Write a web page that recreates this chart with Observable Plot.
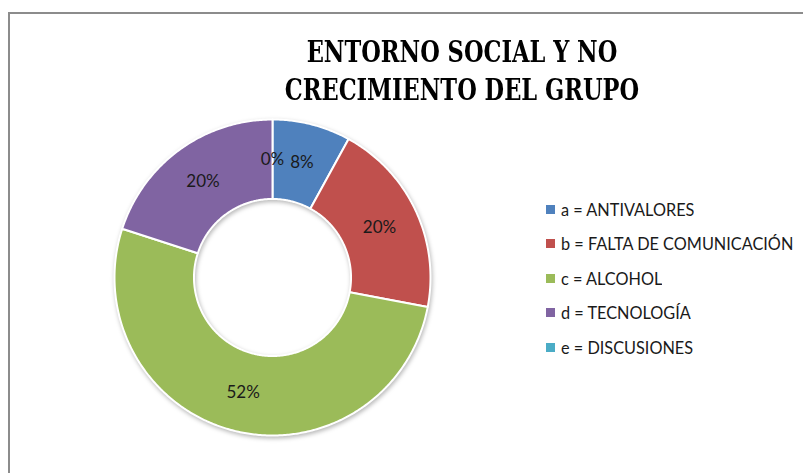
<!DOCTYPE html>
<html><head><meta charset="utf-8">
<script src="https://cdn.jsdelivr.net/npm/d3@7"></script>
<script src="https://cdn.jsdelivr.net/npm/@observablehq/plot@0.6"></script>
<style>
html,body{margin:0;padding:0;background:#fff;overflow:hidden;width:803px;height:473px;}
#wrap{position:relative;width:803px;height:473px;overflow:hidden;}
#frame{position:absolute;left:8px;top:12px;width:850px;height:520px;border:2px solid #8c8c8c;box-sizing:border-box;}
#title{position:absolute;left:62px;width:800px;top:33px;text-align:center;font-family:"DejaVu Serif","Liberation Serif",serif;font-weight:bold;font-size:29px;line-height:38px;color:#000;transform:scaleX(0.777);}
#chart{position:absolute;left:0;top:0;}
#chart g[aria-label="line"]{filter:drop-shadow(1.5px 2.5px 2px rgba(0,0,0,0.28));}
#legend{position:absolute;left:546px;top:192px;width:257px;}
.lg-swatch{height:34.5px !important;padding:0 !important;margin:0 !important;}
.lg-swatch svg{margin-right:6px !important;}
</style>
</head><body>
<div id="wrap">
  <div id="frame"></div>
  <div id="chart"></div>
  <div id="title">ENTORNO SOCIAL Y NO<br>CRECIMIENTO DEL GRUPO</div>
  <div id="legend"></div>
</div>
<script>
const categories = ["a = ANTIVALORES", "b = FALTA DE COMUNICACIÓN", "c = ALCOHOL", "d = TECNOLOGÍA", "e = DISCUSIONES"];
const values = [8, 20, 52, 20, 0];
const labels = ["8%", "20%", "52%", "20%", "0%"];
const colors = ["#4F81BD", "#C0504D", "#9BBB59", "#8064A2", "#4BACC6"];

const innerRatio = 0.497;
const arcs = d3.pie().sort(null).value(d => d)(values);
const pts = [];
arcs.forEach((a, i) => {
  const span = a.endAngle - a.startAngle;
  if (span <= 0) return;
  const n = Math.max(2, Math.ceil(span / 0.01));
  const ring = [];
  for (let k = 0; k <= n; k++) {
    const t = a.startAngle + span * k / n;
    ring.push({cat: categories[i], x: Math.sin(t), y: Math.cos(t)});
  }
  for (let k = n; k >= 0; k--) {
    const t = a.startAngle + span * k / n;
    ring.push({cat: categories[i], x: innerRatio * Math.sin(t), y: innerRatio * Math.cos(t)});
  }
  ring.push(ring[0]);
  pts.push(...ring);
});
const rm = (1 + innerRatio) / 2;
const labelData = arcs.map((a, i) => {
  const m = (a.startAngle + a.endAngle) / 2;
  return {label: labels[i], x: rm * Math.sin(m), y: rm * Math.cos(m)};
});

const R = 158;
const chart = Plot.plot({
  width: 803, height: 473, margin: 0,
  x: {domain: [-272 / R, 531 / R], axis: null},
  y: {domain: [-196 / R, 277 / R], axis: null},
  color: {domain: categories, range: colors},
  marks: [
    Plot.line(pts, {x: "x", y: "y", z: "cat", fill: "cat", stroke: "white", strokeWidth: 2, curve: "linear"}),
    Plot.text(labelData, {x: "x", y: "y", text: "label", fontSize: 17, fill: "#1a1a1a", fontFamily: "Lato"})
  ]
});
document.getElementById("chart").appendChild(chart);

const legend = Plot.legend({
  color: {domain: categories, range: colors, type: "categorical"},
  columns: 1, swatchSize: 9, className: "lg",
  style: {fontFamily: "Lato", fontSize: "16.3px", color: "#1a1a1a"}
});
document.getElementById("legend").appendChild(legend);
</script>
</body></html>
